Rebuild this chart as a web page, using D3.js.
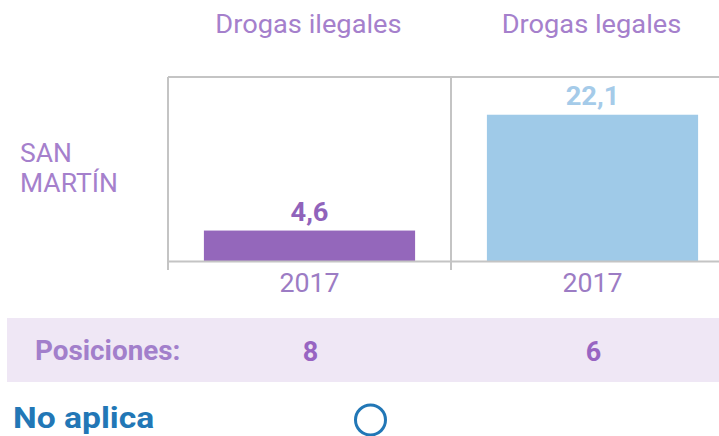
<!DOCTYPE html>
<html><head><meta charset="utf-8">
<script src="https://cdn.jsdelivr.net/npm/d3@7"></script>
<style>body{margin:0;background:#fff}svg{display:block}text{font-family:Roboto,"Liberation Sans",Arial,sans-serif}</style>
</head><body>
<script>
const panels = ["Drogas ilegales", "Drogas legales"];
const years = ["2017"];
const values = [4.6, 22.1];
const valueLabels = ["4,6", "22,1"];
const positions = ["8", "6"];
const region = ["SAN", "MARTÍN"];
const barColors = ["#9467bb", "#9fcae8"];
const labelColors = ["#9063bb", "#a5cbe9"];

const W = 719, H = 436;
const FONT = 'Roboto,"Liberation Sans",Arial,sans-serif';
const svg = d3.select("body").append("svg").attr("width", W).attr("height", H);

function stretch(sel, k) {
  sel.each(function () {
    const len = this.getComputedTextLength();
    d3.select(this).attr("textLength", len * k).attr("lengthAdjust", "spacingAndGlyphs");
  });
  return sel;
}

const panelW = 283, x0 = 168, plotTop = 77, plotBottom = 261;
const px = d3.scaleBand().domain(panels).range([x0, x0 + panelW * panels.length]).padding(0);
const y = d3.scaleLinear().domain([0, 27.8]).range([plotBottom, plotTop]);
const purple = "#a580cc";
const grid = "#c4c4c4";

svg.append("rect").attr("x", 7).attr("y", 318).attr("width", W - 7).attr("height", 64).attr("fill", "#efe7f5");

panels.forEach((p, i) => {
  const g = svg.append("g").attr("transform", `translate(${px(p)},0)`);
  const xb = d3.scaleBand().domain(years).range([0, px.bandwidth()]).paddingInner(0).paddingOuter(0.17);
  g.append("line").attr("x1", 0).attr("x2", px.bandwidth()).attr("y1", plotTop).attr("y2", plotTop)
    .attr("stroke", grid).attr("stroke-width", 2);
  g.append("line").attr("x1", 0).attr("x2", 0).attr("y1", plotTop).attr("y2", plotBottom + 9)
    .attr("stroke", grid).attr("stroke-width", 2);
  g.selectAll("rect.bar").data(years).join("rect").attr("class", "bar")
    .attr("x", d => xb(d)).attr("width", xb.bandwidth())
    .attr("y", y(values[i])).attr("height", plotBottom - y(values[i]))
    .attr("fill", barColors[i]);
  stretch(g.append("text").attr("x", xb(years[0]) + xb.bandwidth() / 2).attr("y", y(values[i]) - 10)
    .attr("text-anchor", "middle").attr("font-size", 26).attr("font-weight", "bold")
    .attr("fill", labelColors[i]).text(valueLabels[i]), 1.05);
  const ax = g.append("g").attr("transform", `translate(0,${plotBottom})`)
    .call(d3.axisBottom(xb).tickSize(0).tickPadding(13));
  ax.select(".domain").attr("stroke", grid).attr("stroke-width", 2);
  stretch(ax.selectAll("text").attr("font-size", 25).attr("fill", "#9c7cc4").style("font-family", FONT), 1.07);
  stretch(g.append("text").attr("x", px.bandwidth() / 2 - 1).attr("y", 33).attr("text-anchor", "middle")
    .attr("font-size", 25).attr("fill", purple).text(p), 1.09);
  g.append("text").attr("x", px.bandwidth() / 2 + 1).attr("y", 361).attr("text-anchor", "middle")
    .attr("font-size", 27).attr("font-weight", "bold").attr("fill", "#9865c2").text(positions[i]);
});

stretch(svg.append("g").selectAll("text").data(region).join("text")
  .attr("x", 20).attr("y", (d, i) => 162 + i * 30)
  .attr("font-size", 25).attr("fill", purple).text(d => d), 1.06);

stretch(svg.append("text").attr("x", 35).attr("y", 360).attr("font-size", 27).attr("font-weight", "bold")
  .attr("fill", "#a27fcb").text("Posiciones:"), 1.03);

stretch(svg.append("text").attr("x", 13).attr("y", 428).attr("font-size", 30).attr("font-weight", "bold")
  .attr("fill", "#2277b6").text("No aplica"), 1.12);
svg.append("circle").attr("cx", px(panels[0]) + px.bandwidth() / 2 + 61).attr("cy", 420).attr("r", 15)
  .attr("fill", "none").attr("stroke", "#2277b6").attr("stroke-width", 3);
</script>
</body></html>
